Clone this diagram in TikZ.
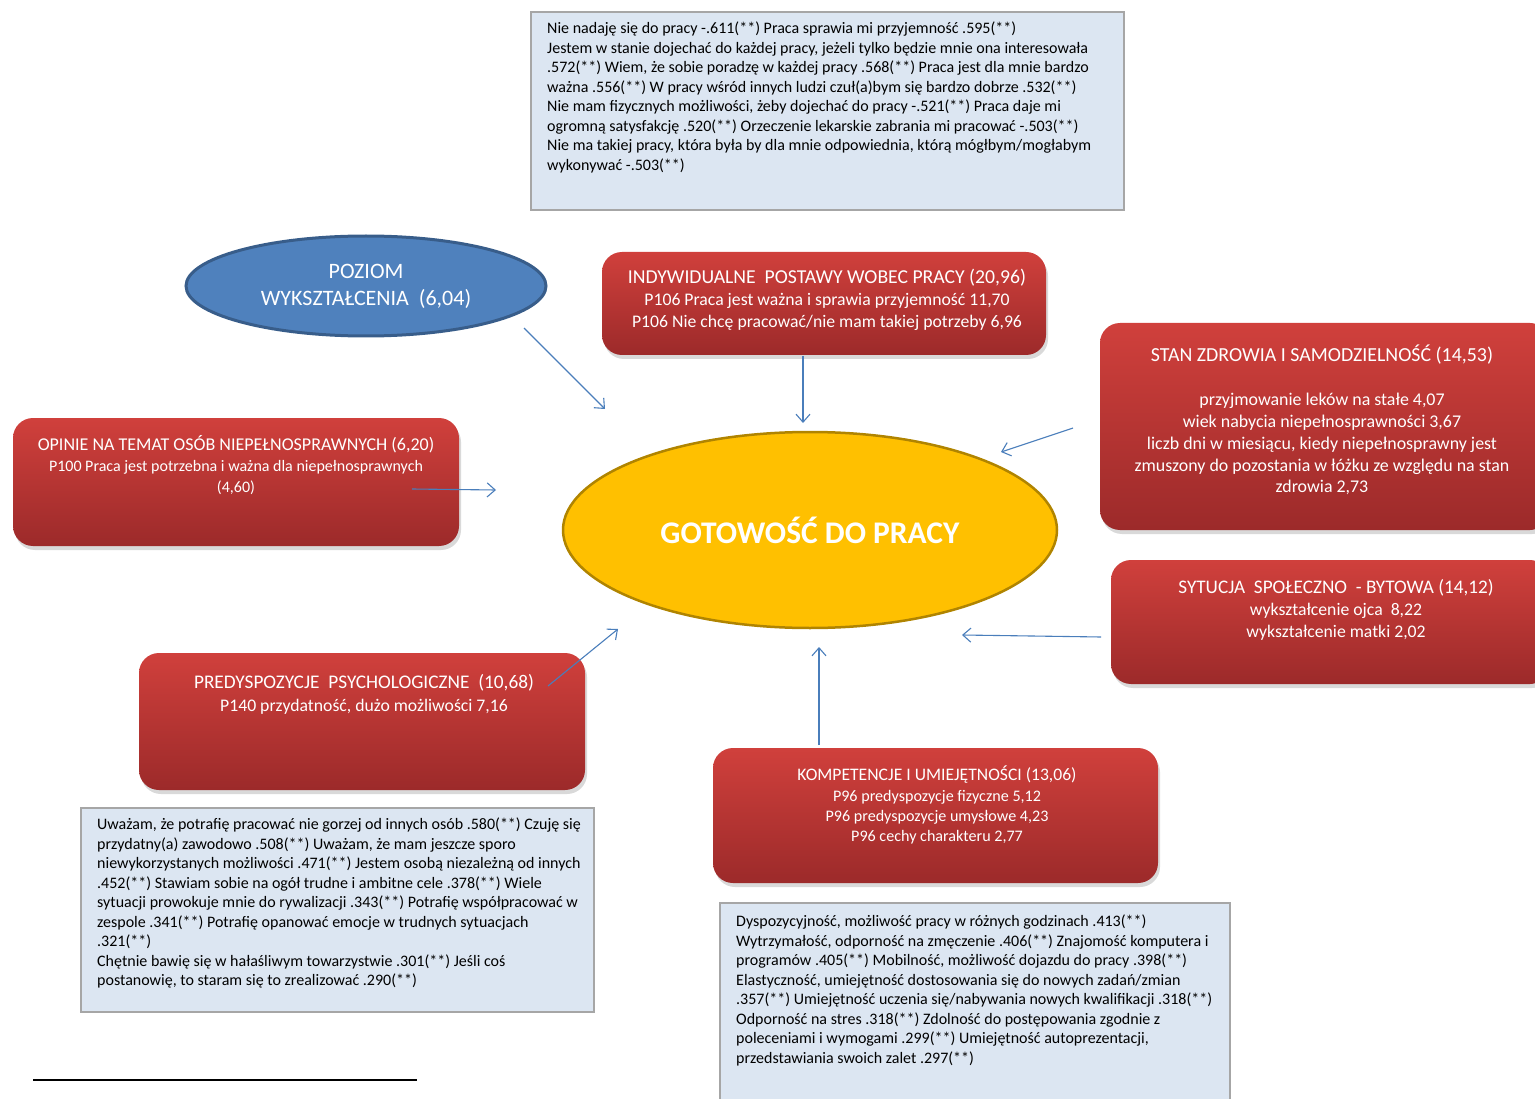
\documentclass[tikz,border=0pt]{standalone}
\usepackage{fontspec}
\setmainfont{Carlito}
\usepackage{xcolor}
\usetikzlibrary{positioning,arrows.meta,shapes.geometric,shadows}

\definecolor{redtop}{RGB}{208,64,60}
\definecolor{redbot}{RGB}{156,42,42}
\definecolor{notefill}{RGB}{220,230,242}
\definecolor{notedraw}{RGB}{166,166,166}
\definecolor{edublue}{RGB}{79,129,189}
\definecolor{eduedge}{RGB}{56,93,138}
\definecolor{gold}{RGB}{255,192,0}
\definecolor{goldedge}{RGB}{176,132,0}
\definecolor{linkblue}{RGB}{74,126,187}

\newcommand{\factorhead}[2]{{\fontsize{#1}{21.5}\selectfont #2}}

\tikzset{
  factor/.style={rounded corners=20pt,top color=redtop,bottom color=redbot,draw=none,
    drop shadow={opacity=0.3,shadow xshift=2pt,shadow yshift=-4pt},inner sep=0pt},
  factortext/.style={text=white,align=center,inner sep=0pt,anchor=north,
    font=\fontsize{17.7}{21.5}\selectfont},
  note/.style={fill=notefill,draw=notedraw,line width=1.2pt,inner sep=0pt},
  notetext/.style={align=left,inner sep=0pt,anchor=north west,
    font=\fontsize{16}{19.5}\selectfont},
  link/.style={->,draw=linkblue,line width=1.1pt},
}

\begin{document}
\begin{tikzpicture}[x=1pt,y=-1pt,>={Straight Barb[length=8pt,width=14pt]}]
\useasboundingbox (0,0) rectangle (1535,1099);
\clip (0,0) rectangle (1535,1099);

\node[note,minimum width=593,minimum height=198] (topnote) at (827.5,111) {};
\node[notetext] (topnotetxt) at (547,22) {Nie nadaję się do pracy -.611(**) Praca sprawia mi przyjemność .595(**)\\
Jestem w stanie dojechać do każdej pracy, jeżeli tylko będzie mnie ona interesowała\\
.572(**) Wiem, że sobie poradzę w każdej pracy .568(**) Praca jest dla mnie bardzo\\
ważna .556(**) W pracy wśród innych ludzi czuł(a)bym się bardzo dobrze .532(**)\\
Nie mam fizycznych możliwości, żeby dojechać do pracy -.521(**) Praca daje mi\\
ogromną satysfakcję .520(**) Orzeczenie lekarskie zabrania mi pracować -.503(**)\\
Nie ma takiej pracy, która była by dla mnie odpowiednia, którą mógłbym/mogłabym\\
wykonywać -.503(**)};

\node[ellipse,fill=edublue,draw=eduedge,line width=3pt,minimum width=360,minimum height=100,
  text=white,align=center,font=\fontsize{22}{27}\selectfont] (edu) at (366,286)
  {POZIOM\\WYKSZTAŁCENIA\ \ (6,04)};

\node[factor,minimum width=444,minimum height=103] (attit) at (824,303.5) {};
\node[factortext] (attittxt) at (827,269)
  {\factorhead{19.7}{INDYWIDUALNE\ \ POSTAWY WOBEC PRACY (20,96)}\\[0.5pt]
  P106 Praca jest ważna i sprawia przyjemność 11,70\\
  P106 Nie chcę pracować/nie mam takiej potrzeby 6,96};

\node[factor,minimum width=450,minimum height=207] (health) at (1325,426.5) {};
\node[factortext,font=\fontsize{17.9}{21.8}\selectfont] (healthtxt) at (1322,345)
  {\factorhead{19.9}{STAN ZDROWIA I SAMODZIELNOŚĆ (14,53)}\\[22pt]
  przyjmowanie leków na stałe 4,07\\
  wiek nabycia niepełnosprawności 3,67\\
  liczb dni w miesiącu, kiedy niepełnosprawny jest\\
  zmuszony do pozostania w łóżku ze względu na stan\\
  zdrowia 2,73};

\node[factor,minimum width=446,minimum height=128] (opin) at (236,482) {};
\node[factortext,font=\fontsize{16}{20.5}\selectfont] (opintxt) at (236,435)
  {\factorhead{18}{OPINIE NA TEMAT OSÓB NIEPEŁNOSPRAWNYCH (6,20)}\\[1pt]
  P100 Praca jest potrzebna i ważna dla niepełnosprawnych\\
  (4,60)};

\node[ellipse,fill=gold,draw=goldedge,line width=2.5pt,minimum width=494,minimum height=196,
  text=white,font=\bfseries\fontsize{31.5}{34}\selectfont] (ready) at (810,530) {GOTOWOŚĆ DO PRACY};

\node[factor,minimum width=439,minimum height=124] (social) at (1330.5,622) {};
\node[factortext] (socialtxt) at (1336,579)
  {\factorhead{19.2}{SYTUCJA\ \ SPOŁECZNO\ \ -\ BYTOWA (14,12)}\\[1pt]
  wykształcenie ojca\ \ 8,22\\
  wykształcenie matki 2,02};

\node[factor,minimum width=446,minimum height=137] (psych) at (362,721.5) {};
\node[factortext] (psychtxt) at (364,674)
  {\factorhead{19.3}{PREDYSPOZYCJE\ \ PSYCHOLOGICZNE\ \ (10,68)}\\[1.5pt]
  P140 przydatność,\ dużo możliwości 7,16};

\node[factor,minimum width=445,minimum height=135] (comp) at (935.5,815.5) {};
\node[factortext,font=\fontsize{16.1}{20}\selectfont] (comptxt) at (937,766)
  {\factorhead{17.6}{KOMPETENCJE I UMIEJĘTNOŚCI (13,06)}\\[1pt]
  P96 predyspozycje fizyczne 5,12\\
  P96 predyspozycje umysłowe 4,23\\
  P96 cechy charakteru 2,77};

\node[note,minimum width=513,minimum height=204] (psychnote) at (337.5,910) {};
\node[notetext] (psychnotetxt) at (97,818) {Uważam, że potrafię pracować nie gorzej od innych osób .580(**) Czuję się\\
przydatny(a) zawodowo .508(**) Uważam, że mam jeszcze sporo\\
niewykorzystanych możliwości .471(**) Jestem osobą niezależną od innych\\
.452(**) Stawiam sobie na ogół trudne i ambitne cele .378(**) Wiele\\
sytuacji prowokuje mnie do rywalizacji .343(**) Potrafię współpracować w\\
zespole .341(**) Potrafię opanować emocje w trudnych sytuacjach\\
.321(**)\\
Chętnie bawię się w hałaśliwym towarzystwie .301(**) Jeśli coś\\
postanowię, to staram się to zrealizować .290(**)};

\node[note,minimum width=510,minimum height=202] (compnote) at (975,1004) {};
\node[notetext] (compnotetxt) at (736,915) {Dyspozycyjność, możliwość pracy w różnych godzinach .413(**)\\
Wytrzymałość, odporność na zmęczenie .406(**) Znajomość komputera i\\
programów .405(**) Mobilność, możliwość dojazdu do pracy .398(**)\\
Elastyczność, umiejętność dostosowania się do nowych zadań/zmian\\
.357(**) Umiejętność uczenia się/nabywania nowych kwalifikacji .318(**)\\
Odporność na stres .318(**) Zdolność do postępowania zgodnie z\\
poleceniami i wymogami .299(**) Umiejętność autoprezentacji,\\
przedstawiania swoich zalet .297(**)};

\coordinate (e1) at (524,328);  \coordinate (e2) at (605,409);
\coordinate (a1) at (803,356);  \coordinate (a2) at (803,423);
\coordinate (h1) at (1073,428); \coordinate (h2) at (1001,452);
\coordinate (o1) at (412,489);  \coordinate (o2) at (496,490);
\coordinate (s1) at (1101,637); \coordinate (s2) at (962,635);
\coordinate (p1) at (548,686);  \coordinate (p2) at (618,629);
\coordinate (c1) at (819,745);  \coordinate (c2) at (819,647);
\draw[link] (e1) -- (e2);
\draw[link] (a1) -- (a2);
\draw[link] (h1) -- (h2);
\draw[link] (o1) -- (o2);
\draw[link] (s1) -- (s2);
\draw[link] (p1) -- (p2);
\draw[link] (c1) -- (c2);

\coordinate (rule1) at (33,1080); \coordinate (rule2) at (417,1080);
\draw[line width=2pt] (rule1) -- (rule2);
\end{tikzpicture}
\end{document}
